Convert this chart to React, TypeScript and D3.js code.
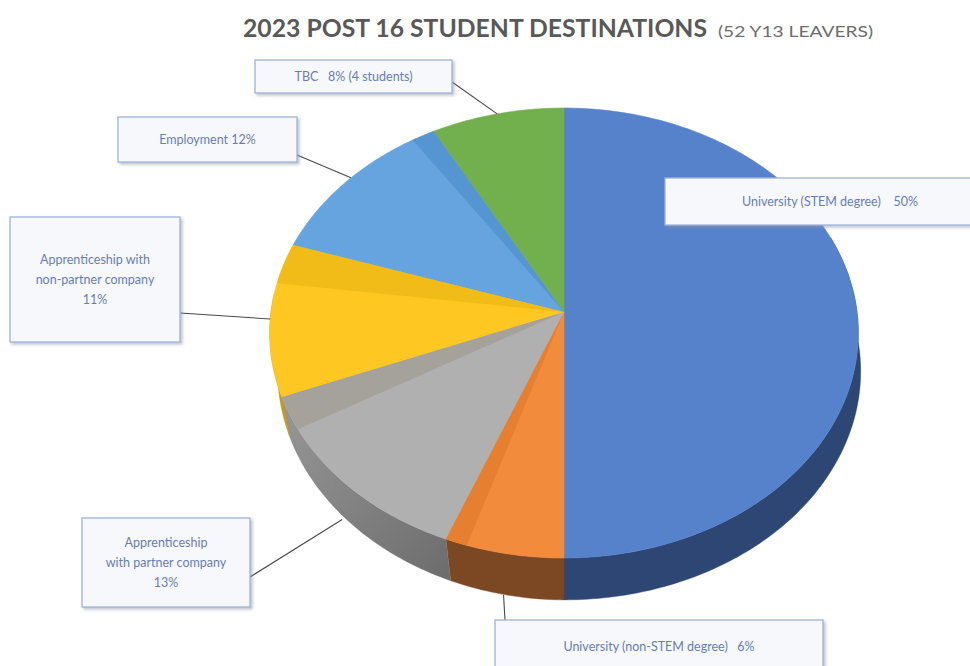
import React from "react";
import * as d3 from "d3";

const categories = [
  "University (STEM degree)",
  "University (non-STEM degree)",
  "Apprenticeship with partner company",
  "Apprenticeship with non-partner company",
  "Employment",
  "TBC",
];
const values = [50, 6, 13, 11, 12, 8];
const labelLines = [
  ["University (STEM degree)    50%"],
  ["University (non-STEM degree)   6%"],
  ["Apprenticeship", "with partner company", "13%"],
  ["Apprenticeship with", "non-partner company", "11%"],
  ["Employment 12%"],
  ["TBC   8% (4 students)"],
];
const titleMain = "2023 POST 16 STUDENT DESTINATIONS";
const titleSub = "(52 Y13 LEAVERS)";

// styles (separate from data)
const topColors = ["#5682CC", "#F38B3D", "#B0B0B0", "#FFC722", "#65A4DE", "#72B04E"];
const bandColors = ["#5682CC", "#E67F30", "#A5A29B", "#F1BB18", "#5596D2", "#72B04E"];
const sideFills = ["#2E4673", "#7C4824", "url(#graySide)", "#C49A14", "#3F6E9C", "#4D7A34"];
const bandDeg = [0, 4, 8.5, 10.5, 5, 0];

// label layout: box + anchor on box
const labelLayout = [
  { x: 665, y: 178, w: 330, h: 47, ax: null, ay: null, depth: 0 },
  { x: 495, y: 620, w: 328, h: 60, ax: 505, ay: 620, depth: 1 },
  { x: 82, y: 518, w: 168, h: 89, ax: 250, ay: 577, depth: 0.95 },
  { x: 10, y: 217, w: 170, h: 125, ax: 180, ay: 313, depth: 0 },
  { x: 118, y: 117, w: 179, h: 45, ax: 297, ay: 155, depth: 0 },
  { x: 255, y: 60, w: 197, h: 33, ax: 452, ay: 82, depth: 0 },
];

const CX = 564;
const CY = 312;
const RX = 293;
const RY = 223;
const K = 0.0934;
const H = 38;
const DX = 8;

function proj(theta: number, h = 0): [number, number] {
  const X = Math.sin(theta);
  const Z = Math.cos(theta);
  const w = 1 + K * Z;
  return [CX + (RX * X) / w, CY - (RY * Z) / w + h / w];
}

function bottomPt(theta: number): [number, number] {
  const p = proj(theta, H);
  return [p[0] + DX * Math.abs(Math.sin(theta)) ** 0.5 * (Math.sin(theta) < 0 ? 1 : 0.3), p[1]];
}

function arcPts(a0: number, a1: number, f: (t: number) => [number, number]): [number, number][] {
  const n = Math.max(2, Math.ceil(((a1 - a0) * 180) / Math.PI));
  const pts: [number, number][] = [];
  for (let i = 0; i <= n; i++) pts.push(f(a0 + ((a1 - a0) * i) / n));
  return pts;
}

const line = d3.line();
const topPt = (t: number) => proj(t, 0);

export default function App() {
  const arcs = d3
    .pie<number>()
    .sort(null)
    .value((d) => d)
    .startAngle(0)
    .endAngle(Math.PI * 2)(values);

  const tLo = (70 * Math.PI) / 180;
  const tHi = (275 * Math.PI) / 180;

  const sides = arcs.map((a, i) => {
    const a0 = Math.max(a.startAngle, tLo);
    const a1 = Math.min(a.endAngle, tHi);
    if (a1 <= a0) return null;
    const pts = [...arcPts(a0, a1, topPt), ...arcPts(a0, a1, bottomPt).reverse()];
    return <path key={"s" + i} d={line(pts) + "Z"} fill={sideFills[i]} stroke={i === 2 ? "#777" : sideFills[i]} strokeWidth={0.4} />;
  });

  const tops = arcs.map((a, i) => {
    const pts: [number, number][] = [[CX, CY], ...arcPts(a.startAngle, a.endAngle, topPt)];
    return <path key={"t" + i} d={line(pts) + "Z"} fill={topColors[i]} stroke={topColors[i]} strokeWidth={0.6} />;
  });

  const bands = arcs.map((a, i) => {
    if (!bandDeg[i]) return null;
    const a0 = a.endAngle - (bandDeg[i] * Math.PI) / 180;
    const pts: [number, number][] = [[CX, CY], ...arcPts(a0, a.endAngle, topPt)];
    return <path key={"b" + i} d={line(pts) + "Z"} fill={bandColors[i]} />;
  });

  const leaders = arcs.map((a, i) => {
    const L = labelLayout[i];
    if (L.ax == null) return null;
    const mid = (a.startAngle + a.endAngle) / 2;
    const p = proj(mid, H * L.depth);
    return <line key={"l" + i} x1={L.ax} y1={L.ay} x2={p[0]} y2={p[1]} stroke="#4A4A4A" strokeWidth={1.1} />;
  });

  const labels = labelLines.map((lines, i) => {
    const L = labelLayout[i];
    const lh = 20;
    const cx = L.x + L.w / 2;
    const firstY = i === 1 ? 651 : L.y + L.h / 2 - ((lines.length - 1) * lh) / 2 + 4;
    return (
      <g key={"g" + i}>
        <rect x={L.x} y={L.y} width={L.w} height={L.h} fill="#F6F8FC" stroke="#9FB2DA" strokeWidth={1.3} filter="url(#shadow)" />
        {lines.map((t, j) => (
          <text
            key={j}
            x={cx}
            y={firstY + j * lh}
            textAnchor="middle"
            fontFamily="Lato, 'Open Sans', sans-serif"
            fontSize={12.5}
            fill="#6A7DB2"
            style={{ whiteSpace: "pre" }}
          >
            {t}
          </text>
        ))}
      </g>
    );
  });

  return (
    <svg width={970} height={666} style={{ position: "absolute", left: 0, top: 0, background: "#fff" }}>
      <defs>
        <filter id="shadow" x="-10%" y="-10%" width="130%" height="140%">
          <feDropShadow dx={2} dy={2} stdDeviation={1.5} floodColor="#8C94A3" floodOpacity={0.55} />
        </filter>
        <linearGradient id="graySide" x1="0" y1="0" x2="1" y2="1">
          <stop offset="0" stopColor="#989898" />
          <stop offset="1" stopColor="#6C6C6C" />
        </linearGradient>
      </defs>
      <rect width={970} height={666} fill="#fff" />
      <text x={243} y={37} fontFamily="Lato, 'Open Sans', sans-serif" fontWeight={700} fontSize={25} fill="#595959" textLength={464} lengthAdjust="spacingAndGlyphs">
        {titleMain}
      </text>
      <text x={718} y={37} fontFamily="Lato, 'Open Sans', sans-serif" fontSize={15} fill="#6E6E6E" textLength={155} lengthAdjust="spacingAndGlyphs">
        {titleSub}
      </text>
      <g>{sides}</g>
      <g>{tops}</g>
      <g>{bands}</g>
      <g>{leaders}</g>
      <g>{labels}</g>
      <title>{categories.join(", ")}</title>
    </svg>
  );
}
